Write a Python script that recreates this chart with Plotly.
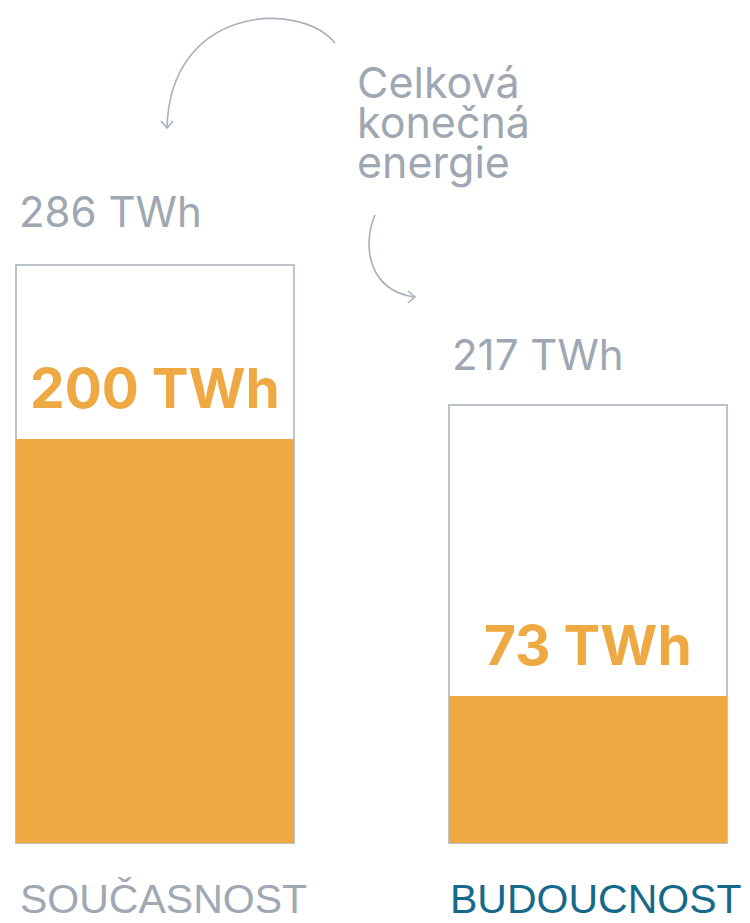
import plotly.graph_objects as go

# ---- data ----
categories = ["SOUČASNOST", "BUDOUCNOST"]
total_energy = [286, 217]      # Celková konečná energie (TWh)
final_values = [200, 73]       # highlighted part (TWh)
total_labels = ["286 TWh", "217 TWh"]
final_labels = ["200 TWh", "73 TWh"]
category_colors = ["#A0A8B3", "#17698A"]
note_lines = ["Celková", "konečná", "energie"]

# ---- style ----
W, H = 750, 923
ORANGE = "#EFA943"
OUTLINE = "#BCC3CB"
GRAY = "#9EA7B2"
FONT = "Inter, Roboto, sans-serif"

x_pos = [0, 1]
bar_w = 0.64

fig = go.Figure()
fig.add_trace(go.Bar(
    x=x_pos, y=total_energy, width=bar_w,
    marker=dict(color="white", line=dict(color=OUTLINE, width=2)),
    hoverinfo="skip", showlegend=False,
))
fig.add_trace(go.Bar(
    x=x_pos, y=final_values, width=bar_w,
    marker=dict(color=ORANGE, line=dict(color=ORANGE, width=0)),
    hoverinfo="skip", showlegend=False,
))

ann = []
total_shift = [54, 50]
for i in range(len(categories)):
    ann.append(dict(
        x=x_pos[i] - bar_w / 2, y=total_energy[i], xref="x", yref="y",
        text=total_labels[i], showarrow=False, xanchor="left", yanchor="middle",
        xshift=1, yshift=total_shift[i], font=dict(family=FONT, size=42, color=GRAY),
    ))
    ann.append(dict(
        x=x_pos[i], y=final_values[i], xref="x", yref="y",
        text="<b>" + final_labels[i] + "</b>", showarrow=False,
        xanchor="center", yanchor="middle", yshift=51,
        font=dict(family=FONT, size=55, color=ORANGE),
    ))
    ann.append(dict(
        x=x_pos[i], y=0, xref="x", yref="y",
        text=categories[i], showarrow=False, xanchor="center", yanchor="middle",
        xshift=8, yshift=-56,
        font=dict(family="Liberation Sans, Arial, sans-serif",
                  size=41, color=category_colors[i]),
    ))

note_y = [82, 122, 162]
for line, py in zip(note_lines, note_y):
    ann.append(dict(
        x=355 / W, y=1 - py / H, xref="paper", yref="paper",
        text=line, showarrow=False, xanchor="left", yanchor="middle",
        font=dict(family=FONT, size=43, color=GRAY),
    ))


def P(px, py):
    return f"{px / W:.5f},{1 - py / H:.5f}"


arrow_paths = [
    f"M{P(335,43)} C{P(300,0)} {P(170,5)} {P(167,128)}",
    f"M{P(161,121)} L{P(167,128)} L{P(173,121)}",
    f"M{P(375,215)} C{P(362,245)} {P(368,290)} {P(414,297)}",
    f"M{P(408,291)} L{P(415,297)} L{P(408,303)}",
]
shapes = [dict(type="path", path=p, xref="paper", yref="paper",
               line=dict(color="#A9B1BB", width=1.6)) for p in arrow_paths]

k = 2.02
fig.update_layout(
    width=W, height=H,
    margin=dict(l=0, r=0, t=0, b=0),
    paper_bgcolor="white", plot_bgcolor="white",
    barmode="overlay", bargap=0,
    xaxis=dict(range=[-155 / 433, (W - 155) / 433], visible=False, fixedrange=True),
    yaxis=dict(range=[-(H - 843) / k, 843 / k], visible=False, fixedrange=True),
    annotations=ann, shapes=shapes,
)

fig.write_html("out.html", config={"displayModeBar": False},
               post_script="document.body.style.margin='0';")
